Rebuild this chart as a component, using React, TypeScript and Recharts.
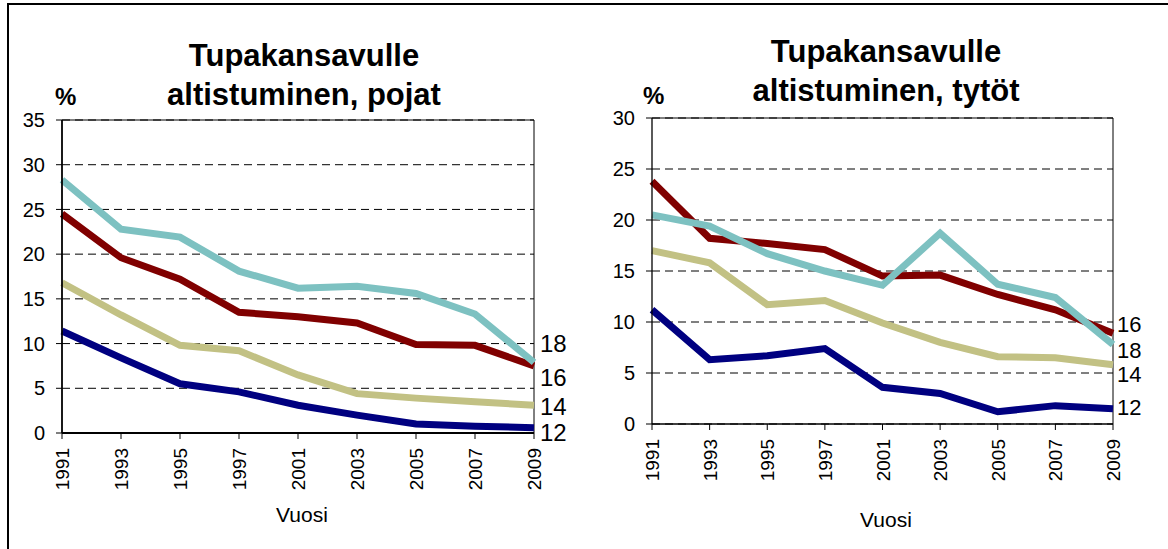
import React from "react";
import {
  LineChart,
  Line,
  XAxis,
  YAxis,
  CartesianGrid,
  ReferenceLine,
  LabelList,
} from "recharts";

const years = ["1991", "1993", "1995", "1997", "2001", "2003", "2005", "2007", "2009"];

// pojat (boys), by age
const boys12 = [11.4, 8.4, 5.5, 4.6, 3.1, 2.0, 1.0, 0.75, 0.6];
const boys14 = [16.8, 13.2, 9.8, 9.2, 6.5, 4.4, 3.9, 3.5, 3.1];
const boys16 = [24.5, 19.6, 17.2, 13.5, 13.0, 12.3, 9.9, 9.8, 7.5];
const boys18 = [28.3, 22.8, 21.9, 18.1, 16.2, 16.4, 15.6, 13.3, 7.9];

// tytöt (girls), by age
const girls12 = [11.2, 6.3, 6.7, 7.4, 3.6, 3.0, 1.2, 1.8, 1.5];
const girls14 = [17.0, 15.8, 11.7, 12.1, 9.9, 8.0, 6.6, 6.5, 5.8];
const girls16 = [23.8, 18.2, 17.7, 17.1, 14.5, 14.6, 12.7, 11.2, 8.9];
const girls18 = [20.5, 19.4, 16.7, 15.0, 13.6, 18.7, 13.7, 12.4, 7.8];

const boysTicks = [0, 5, 10, 15, 20, 25, 30, 35];
const girlsTicks = [0, 5, 10, 15, 20, 25, 30];

const ages = ["12", "14", "16", "18"];

const colors: Record<string, string> = {
  "12": "#000080",
  "14": "#C2C184",
  "16": "#800000",
  "18": "#7DC1C1",
};

const FONT = '"Liberation Sans", Arial, sans-serif';

function buildRows(s12: number[], s14: number[], s16: number[], s18: number[]) {
  return years.map((year, i) => ({
    year,
    "12": s12[i],
    "14": s14[i],
    "16": s16[i],
    "18": s18[i],
  }));
}

const YearTick = (props: any) => {
  const { x, y, payload } = props;
  return (
    <g transform={`translate(${x},${y})`}>
      <text
        transform="rotate(-90)"
        x={-9}
        y={0}
        dy={7}
        textAnchor="end"
        fontSize={19}
        fill="#000"
      >
        {payload.value}
      </text>
    </g>
  );
};

interface PanelProps {
  rows: any[];
  ticks: number[];
  left: number;
  yAxisWidth: number;
  marginRight: number;
  marginTop: number;
  marginBottom: number;
  axisWidth: number;
  labelDx: number;
  labelSize: number;
  labelDy: Record<string, number>;
}

function Panel(p: PanelProps) {
  const yMax = p.ticks[p.ticks.length - 1];
  const last = p.rows.length - 1;
  return (
    <div style={{ position: "absolute", left: p.left, top: 0 }}>
      <LineChart
        width={584}
        height={549}
        data={p.rows}
        margin={{ top: p.marginTop, right: p.marginRight, left: 0, bottom: p.marginBottom }}
      >
        <CartesianGrid vertical={false} stroke="#000" strokeDasharray="8 5" />
        <ReferenceLine y={yMax} stroke="#000" strokeWidth={1} />
        <ReferenceLine x={years[years.length - 1]} stroke="#000" strokeWidth={1} />
        <XAxis
          dataKey="year"
          interval={0}
          height={100}
          tickSize={6}
          tickMargin={0}
          tick={<YearTick />}
          axisLine={{ stroke: "#000", strokeWidth: p.axisWidth }}
          tickLine={{ stroke: "#000" }}
        />
        <YAxis
          width={p.yAxisWidth}
          domain={[0, yMax]}
          ticks={p.ticks}
          interval={0}
          tickSize={6}
          tickMargin={11}
          tick={{ fontSize: 20, fill: "#000" }}
          axisLine={{ stroke: "#000", strokeWidth: p.axisWidth }}
          tickLine={{ stroke: "#000" }}
        />
        {ages.map((age) => (
          <Line
            key={age}
            type="linear"
            dataKey={age}
            stroke={colors[age]}
            strokeWidth={7}
            dot={false}
            activeDot={false}
            isAnimationActive={false}
          >
            <LabelList
              dataKey={age}
              content={(lp: any) =>
                lp.index === last ? (
                  <text
                    x={lp.x + p.labelDx}
                    y={lp.y + p.labelDy[age] + p.labelSize * 0.36}
                    fontSize={p.labelSize}
                    fill="#000"
                  >
                    {age}
                  </text>
                ) : null
              }
            />
          </Line>
        ))}
      </LineChart>
    </div>
  );
}

const titleStyle: React.CSSProperties = {
  position: "absolute",
  fontSize: 31,
  fontWeight: "bold",
  lineHeight: "39px",
  textAlign: "center",
  transform: "translateX(-50%)",
  whiteSpace: "nowrap",
};

const pctStyle: React.CSSProperties = {
  position: "absolute",
  fontSize: 24,
  fontWeight: "bold",
  lineHeight: "24px",
};

const vuosiStyle: React.CSSProperties = {
  position: "absolute",
  fontSize: 21,
  lineHeight: "21px",
  transform: "translateX(-50%)",
};

export default function App() {
  const boysRows = buildRows(boys12, boys14, boys16, boys18);
  const girlsRows = buildRows(girls12, girls14, girls16, girls18);
  return (
    <div
      style={{
        position: "absolute",
        left: 0,
        top: 0,
        width: 1168,
        height: 549,
        background: "#fff",
        fontFamily: FONT,
        color: "#000",
        overflow: "hidden",
      }}
    >
      <div
        style={{
          position: "absolute",
          left: 7,
          top: 3,
          width: 1161,
          height: 546,
          borderTop: "2px solid #000",
          borderLeft: "2px solid #000",
          boxSizing: "border-box",
        }}
      />
      <Panel
        rows={boysRows}
        ticks={boysTicks}
        left={0}
        yAxisWidth={62}
        marginRight={50}
        marginTop={120}
        marginBottom={16}
        axisWidth={1.8}
        labelDx={6}
        labelSize={24}
        labelDy={{ "18": -19, "16": 11, "14": 1, "12": 4.5 }}
      />
      <Panel
        rows={girlsRows}
        ticks={girlsTicks}
        left={584}
        yAxisWidth={68}
        marginRight={55}
        marginTop={118}
        marginBottom={25}
        axisWidth={1.3}
        labelDx={4}
        labelSize={22}
        labelDy={{ "16": -9, "18": 6, "14": 9, "12": -2 }}
      />
      <div style={{ ...titleStyle, left: 304, top: 36 }}>
        Tupakansavulle
        <br />
        altistuminen, pojat
      </div>
      <div style={{ ...titleStyle, left: 886, top: 32 }}>
        Tupakansavulle
        <br />
        altistuminen, tytöt
      </div>
      <div style={{ ...pctStyle, left: 55, top: 85 }}>%</div>
      <div style={{ ...pctStyle, left: 643, top: 84 }}>%</div>
      <div style={{ ...vuosiStyle, left: 302, top: 504 }}>Vuosi</div>
      <div style={{ ...vuosiStyle, left: 886, top: 509 }}>Vuosi</div>
    </div>
  );
}
